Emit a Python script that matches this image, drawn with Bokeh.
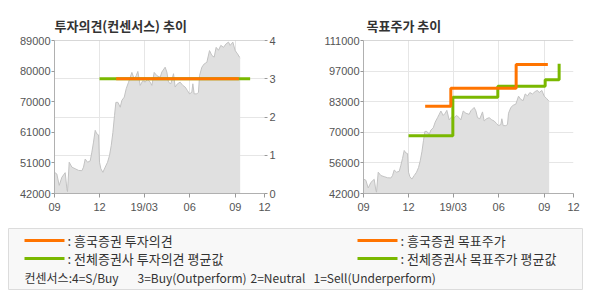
from bokeh.plotting import figure
from bokeh.models import Range1d, LinearAxis, FixedTicker, Span
from bokeh.layouts import column, row
from bokeh.core.properties import value
from bokeh.embed import file_html
from bokeh.resources import INLINE

# ---------------- data ----------------
# x positions are days counted from 2018-09-01
x_ticks = [0, 91, 181, 273, 365, 424]
x_labels = ["09", "12", "19/03", "06", "09", "12"]

price_day = [0, 4.7, 9.5, 14.9, 21.6, 25, 26.3, 29.7, 35.1, 41.8, 48.5, 55.3, 58.6, 62, 66.7,
             72.1, 75.4, 78.8, 82.2, 85.5, 88.9, 90.9, 93.6, 97.7, 102.4, 107.1, 111.1, 114.5,
             117.9, 121.2, 123.9, 128, 132.7, 136, 140.8, 144.8, 149.5, 152.9, 156.2, 160.9,
             165, 168.3, 173, 178.4, 183.1, 187.8, 193.2, 196.6, 201.3, 206.7, 213.4, 216.7,
             223.4, 226.8, 230.2, 234.9, 240.3, 243.6, 248.3, 253.7, 259.1, 263.8, 268.5,
             272.6, 277.3, 279.3, 282, 287.4, 290.7, 292.8, 297.5, 302.2, 307.6, 313, 317.7,
             322.4, 326.4, 331.1, 335.8, 341.2, 346.6, 351.3, 354.7, 360.1, 364.8, 369.5,
             373.5, 374.9]
price = [48500, 48000, 44500, 47000, 48400, 43400, 42600, 51600, 50100, 49600, 49100, 49000,
         50100, 52600, 51600, 52000, 54700, 57800, 61400, 60300, 60000, 51600, 49600, 48500,
         50100, 51600, 53700, 56700, 60800, 66000, 70000, 70000, 68500, 70600, 71600, 74200,
         76200, 77700, 79200, 77200, 78200, 79500, 75200, 76700, 76200, 77200, 76200, 75200,
         79200, 78200, 77700, 79300, 80800, 79300, 76200, 75700, 78800, 74700, 75700, 76200,
         75200, 74700, 73600, 72600, 73100, 75700, 72600, 72600, 73100, 78200, 80800, 81800,
         82300, 85900, 84400, 83900, 86900, 86000, 87500, 86900, 88000, 88500, 87500, 88500,
         85900, 84900, 83900, 83700]

cons_day_firm = [124.5, 372.2]
cons_firm = [3, 3]
cons_day_all = [90.9, 395]
cons_all = [3, 3]

tp_day_firm = [124.5, 176.3, 308.2, 372.2]
tp_firm = [81400, 89500, 100200, 100200]
tp_day_all = [90.9, 180.4, 271.2, 366.8, 395]
tp_all = [68000, 85400, 90400, 93300, 100500]

left_ticks = [42000, 51400, 60800, 70200, 79600, 89000]
left_labels = ["42000", "51000", "61000", "70000", "80000", "89000"]
cons_ticks = [0, 1, 2, 3, 4]
tp_ticks = [42000, 55800, 69600, 83400, 97200, 111000]
tp_labels = ["42000", "56000", "70000", "83000", "97000", "111000"]

titles = ["투자의견(컨센서스) 추이", "목표주가 추이"]
legend_labels = [": 흥국증권 투자의견", ": 전체증권사 투자의견 평균값",
                 ": 흥국증권 목표주가", ": 전체증권사 목표주가 평균값"]
consensus_note = ["컨센서스:4=S/Buy", "3=Buy(Outperform)", "2=Neutral", "1=Sell(Underperform)"]

# ---------------- style ----------------
ORANGE = "#ff7400"
GREEN = "#7ab800"
AREA = "#e0e0e0"
AREA_LINE = "#c2c2c2"
GRID = "#e6e6e6"
AXIS = "#b0b0b0"
LABEL = "#555555"
TICK_FONT = "Liberation Sans"
KFONT = "Noto Sans CJK KR"


def style_axis(ax, ticks, labels=None, tick_out=3, standoff=2, line=True):
    ax.ticker = FixedTicker(ticks=ticks)
    if labels is not None:
        ax.major_label_overrides = {t: l for t, l in zip(ticks, labels)}
    ax.axis_line_color = AXIS if line else None
    ax.major_tick_line_color = "#999999"
    ax.major_tick_out = tick_out
    ax.major_tick_in = 0
    ax.minor_tick_line_color = None
    ax.major_label_text_font = TICK_FONT
    ax.major_label_text_font_size = "11px"
    ax.major_label_text_color = LABEL
    ax.major_label_standoff = standoff


def base_fig(title, y_range, min_left, min_right, y_loc="left"):
    p = figure(width=295, height=220, x_range=Range1d(0, 424), y_range=y_range,
               y_axis_location=y_loc, output_backend="svg", toolbar_location=None,
               min_border_left=min_left, min_border_right=min_right,
               min_border_top=40, min_border_bottom=27, title=title)
    p.title.text_font = KFONT
    p.title.text_font_size = "13px"
    p.title.text_font_style = "bold"
    p.title.text_color = "#333333"
    p.title.standoff = 12
    p.outline_line_color = None
    p.background_fill_color = "white"
    p.border_fill_color = "white"
    style_axis(p.xaxis[0], x_ticks, x_labels, tick_out=4, standoff=3)
    p.xgrid.ticker = FixedTicker(ticks=x_ticks)
    p.xgrid.grid_line_color = GRID
    p.ygrid.grid_line_color = GRID
    return p


# ---------------- left chart: consensus ----------------
p1 = base_fig(titles[0], Range1d(0, 4), 54, 31, y_loc="right")
p1.extra_y_ranges = {"price": Range1d(42000, 89000)}
style_axis(p1.yaxis[0], cons_ticks, tick_out=3, standoff=2, line=False)
p1.ygrid.ticker = FixedTicker(ticks=cons_ticks)
lax = LinearAxis(y_range_name="price")
style_axis(lax, left_ticks, left_labels, tick_out=3, standoff=1)
p1.add_layout(lax, "left")
p1.add_layout(Span(location=4, dimension="width", line_color=AXIS, line_width=1))

p1.varea(x=price_day, y1=[p1.extra_y_ranges["price"].start] * len(price), y2=price,
         fill_color=AREA, y_range_name="price")
p1.line(price_day, price, line_color=AREA_LINE, line_width=1, y_range_name="price")
p1.line(cons_day_all, cons_all, line_color=GREEN, line_width=3)
p1.line(cons_day_firm, cons_firm, line_color=ORANGE, line_width=3)

# ---------------- right chart: target price ----------------
p2 = base_fig(titles[1], Range1d(42000, 111000), 68, 17)
style_axis(p2.yaxis[0], tp_ticks, tp_labels, tick_out=3, standoff=1)
p2.ygrid.ticker = FixedTicker(ticks=tp_ticks)
p2.title.offset = 3
p2.add_layout(Span(location=111000, dimension="width", line_color=AXIS, line_width=1))

p2.varea(x=price_day, y1=[p2.y_range.start] * len(price), y2=price, fill_color=AREA)
p2.line(price_day, price, line_color=AREA_LINE, line_width=1)
p2.step(tp_day_all, tp_all, mode="after", line_color=GREEN, line_width=3)
p2.step(tp_day_firm, tp_firm, mode="after", line_color=ORANGE, line_width=3)

# ---------------- legend panel ----------------
p3 = figure(width=590, height=80, x_range=Range1d(0, 590), y_range=Range1d(80, 0),
            output_backend="svg", toolbar_location=None, min_border=0)
p3.axis.visible = False
p3.grid.visible = False
p3.outline_line_color = None
p3.border_fill_color = "white"
p3.background_fill_color = "white"
p3.quad(left=[8], right=[582], top=[8], bottom=[69], fill_color="#f8f8f8",
        line_color="#dcdcdc", line_width=1)

leg_colors = [ORANGE, GREEN, ORANGE, GREEN]
leg_x0 = [24, 24, 357, 357]
leg_y = [20, 38, 20, 38]
p3.segment(x0=leg_x0, x1=[x + 40 for x in leg_x0], y0=leg_y, y1=leg_y,
           line_color=leg_colors, line_width=3)
p3.text(x=[x + 43 for x in leg_x0], y=leg_y, text=legend_labels,
        text_font=value(KFONT), text_font_size="13px", text_color="#333333",
        text_baseline="middle", text_align="left")
p3.text(x=[24, 137, 250, 313], y=[57] * 4, text=consensus_note,
        text_font=value(KFONT), text_font_size="12px", text_color="#333333",
        text_baseline="middle", text_align="left")

layout = column(row(p1, p2, spacing=0), p3, spacing=0)
open("out.html", "w").write(file_html(layout, INLINE))
